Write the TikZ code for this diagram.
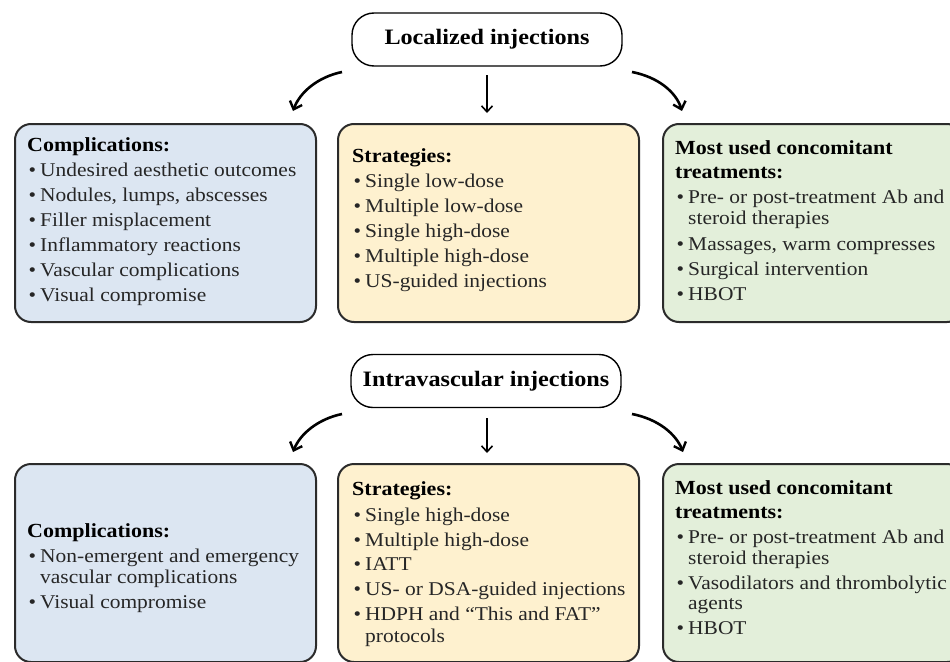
\documentclass[tikz,border=0pt]{standalone}
\usepackage{fontspec}
\setmainfont{Liberation Serif}[FakeStretch=1.1]
\usetikzlibrary{arrows.meta}
\definecolor{bfill}{HTML}{DCE6F2}
\definecolor{yfill}{HTML}{FEF1CF}
\definecolor{gfill}{HTML}{E3EFDA}
\definecolor{bord}{HTML}{2B2B2B}
\definecolor{ink}{HTML}{262626}
\newcommand{\itm}{\makebox[13pt][l]{\hspace{1.5pt}\textbullet}}
\newcommand{\cnt}{\hspace*{13pt}}
\newcommand{\hd}[1]{{\fontsize{20}{25}\selectfont\bfseries\color{black}#1}}
\begin{document}
\begin{tikzpicture}[x=1pt,y=-1pt,
  box/.style={draw=bord, line width=2pt, rounded corners=16pt, anchor=north west, inner sep=0pt},
  ttl/.style={draw=black, line width=1.4pt, rounded corners=22pt, inner sep=0pt,
    minimum width=270pt, minimum height=53pt, font=\fontsize{22}{26}\selectfont\bfseries},
  txt/.style={anchor=north west, align=left, inner sep=0pt, text=ink,
    font=\fontsize{19.5}{25}\selectfont},
  arr/.style={line width=2.6pt, -{Straight Barb[length=7pt,width=13pt,line width=2.4pt]}},
  marr/.style={line width=1.6pt, -{Straight Barb[length=6pt,width=11pt,line width=1.6pt]}},
]
\useasboundingbox (0,0) rectangle (950,661);

% ---------- top row ----------
\node[ttl] (t1) at (487,39.5) {Localized injections};

\node[box, fill=bfill, minimum width=301pt, minimum height=198pt] (b1) at (14,123) {};
\node[box, fill=yfill, minimum width=301pt, minimum height=198pt] (y1) at (337,123) {};
\node[box, fill=gfill, minimum width=300pt, minimum height=198pt] (g1) at (662,123) {};

\node[txt] (b1t) at (27,137.5) {\hd{Complications:}\\
\itm Undesired aesthetic outcomes\\
\itm Nodules, lumps, abscesses\\
\itm Filler misplacement\\
\itm Inflammatory reactions\\
\itm Vascular complications\\
\itm Visual compromise};

\node[txt] (y1t) at (352,148.5) {\hd{Strategies:}\\
\itm Single low-dose\\
\itm Multiple low-dose\\
\itm Single high-dose\\
\itm Multiple high-dose\\
\itm US-guided injections};

\node[txt] (g1t) at (675,140.5) {\hd{Most used concomitant}\\[-1pt]
\hd{treatments:}\\
\itm Pre- or post-treatment Ab and\\[-4.5pt]
\cnt steroid therapies\\[1.5pt]
\itm Massages, warm compresses\\
\itm Surgical intervention\\
\itm HBOT};

\coordinate (a1s) at (342,72);  \coordinate (a1e) at (293,111);
\coordinate (a2s) at (487,75);  \coordinate (a2e) at (487,113);
\coordinate (a3s) at (632,72);  \coordinate (a3e) at (682,111);
\draw[arr] (a1s) .. controls (318,77) and (300,92) .. (a1e);
\draw[marr] (a2s) -- (a2e);
\draw[arr] (a3s) .. controls (658,77) and (676,92) .. (a3e);

% ---------- bottom row ----------
\node[ttl] (t2) at (486,381) {Intravascular injections};

\node[box, fill=bfill, minimum width=301pt, minimum height=198pt] (b2) at (14,463) {};
\node[box, fill=yfill, minimum width=301pt, minimum height=198pt] (y2) at (337,463) {};
\node[box, fill=gfill, minimum width=300pt, minimum height=198pt] (g2) at (662,463) {};

\node[txt] (b2t) at (27,523.5) {\hd{Complications:}\\
\itm Non-emergent and emergency\\[-4.5pt]
\cnt vascular complications\\[0pt]
\itm Visual compromise};

\node[txt] (y2t) at (352,481.5) {\hd{Strategies:}\\[1pt]
\itm Single high-dose\\
\itm Multiple high-dose\\[-1.5pt]
\itm IATT\\
\itm US- or DSA-guided injections\\
\itm HDPH and ``This and FAT''\\[-3pt]
\cnt protocols};

\node[txt] (g2t) at (675,480.5) {\hd{Most used concomitant}\\[-1pt]
\hd{treatments:}\\
\itm Pre- or post-treatment Ab and\\[-4.5pt]
\cnt steroid therapies\\[0pt]
\itm Vasodilators and thrombolytic\\[-4.5pt]
\cnt agents\\[0pt]
\itm HBOT};

\coordinate (c1s) at (342,414); \coordinate (c1e) at (293,452);
\coordinate (c2s) at (487,418); \coordinate (c2e) at (487,453);
\coordinate (c3s) at (632,414); \coordinate (c3e) at (683,452);
\draw[arr] (c1s) .. controls (318,419) and (300,434) .. (c1e);
\draw[marr] (c2s) -- (c2e);
\draw[arr] (c3s) .. controls (658,419) and (676,434) .. (c3e);
\end{tikzpicture}
\end{document}
